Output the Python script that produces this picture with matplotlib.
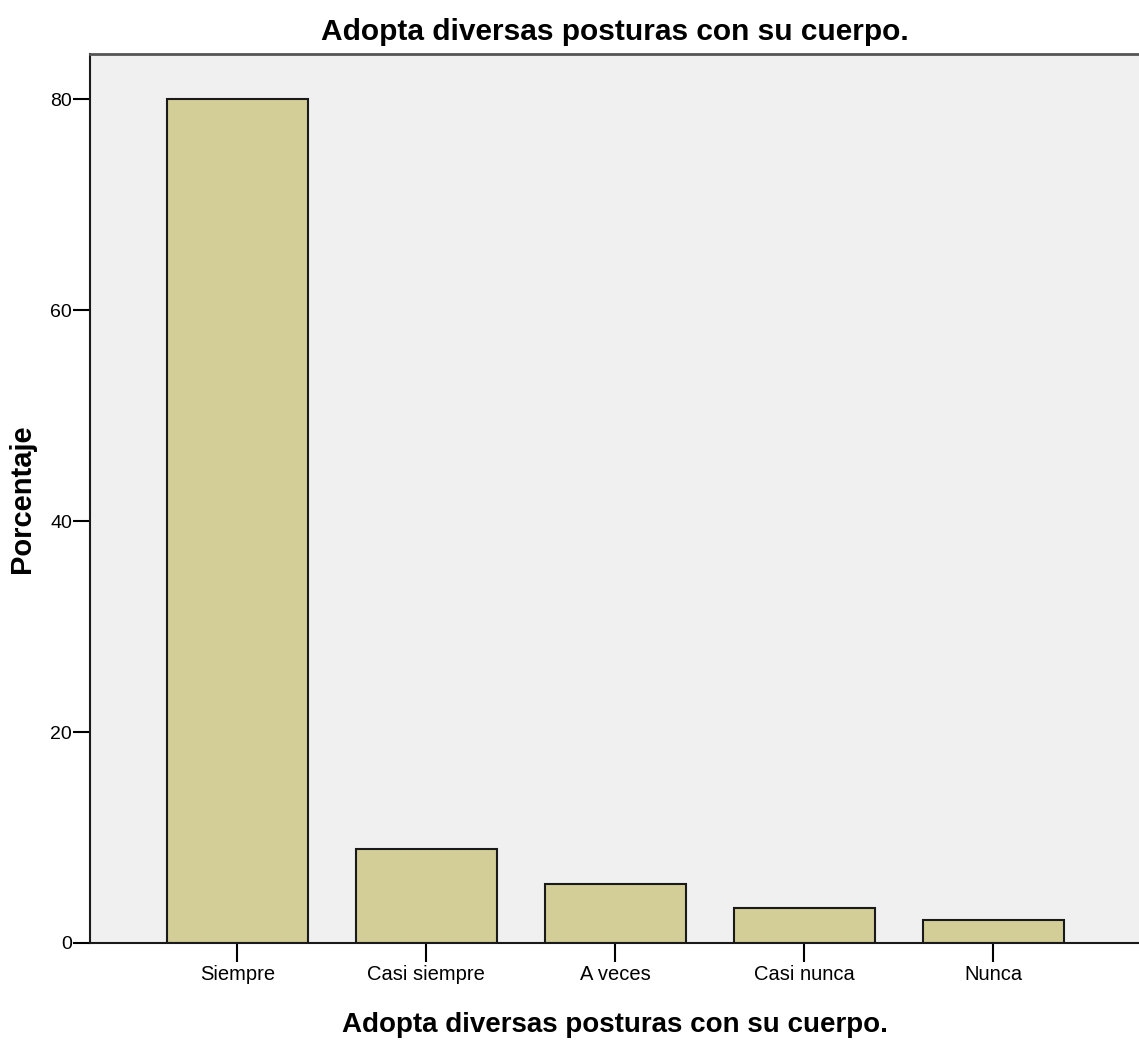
import matplotlib
matplotlib.use('Agg')
import matplotlib.pyplot as plt
import numpy as np

# datos
categorias = ['Siempre', 'Casi siempre', 'A veces', 'Casi nunca', 'Nunca']
porcentaje = [80.0, 8.9, 5.6, 3.3, 2.2]
titulo = 'Adopta diversas posturas con su cuerpo.'

plt.rcParams['font.family'] = ['Liberation Sans', 'DejaVu Sans']

fig = plt.figure(figsize=(11.39, 10.43), dpi=100)
ax = fig.add_axes([0.079, 0.0959, 0.921, 0.8523])
ax.set_facecolor('#f0f0f0')

x = np.arange(len(categorias))
ax.bar(x, porcentaje, width=0.75, color='#d3ce97', edgecolor='#1a1a1a', linewidth=1.5, zorder=2)

ax.set_xlim(-0.78, 4.77)
ax.set_ylim(0, 84.3)
ax.set_yticks([0, 20, 40, 60, 80])
ax.set_xticks(x)
ax.set_xticklabels(categorias, fontsize=14.5)
ax.tick_params(axis='y', labelsize=14, length=12, width=1.5, pad=1)
ax.tick_params(axis='x', length=14, width=1.5, pad=2)

for s in ['left', 'bottom']:
    ax.spines[s].set_linewidth(1.5)
    ax.spines[s].set_color('#1a1a1a')
ax.spines['top'].set_linewidth(2)
ax.spines['top'].set_color('#555555')
ax.spines['right'].set_visible(False)

ax.set_title(titulo, fontsize=21.5, fontweight='bold', pad=10)
ax.set_xlabel(titulo, fontsize=20, fontweight='bold', labelpad=20)
ax.set_ylabel('Porcentaje', fontsize=21, fontweight='bold')
ax.yaxis.set_label_coords(-0.051, 0.5)

fig.savefig('out.png', dpi=100)
